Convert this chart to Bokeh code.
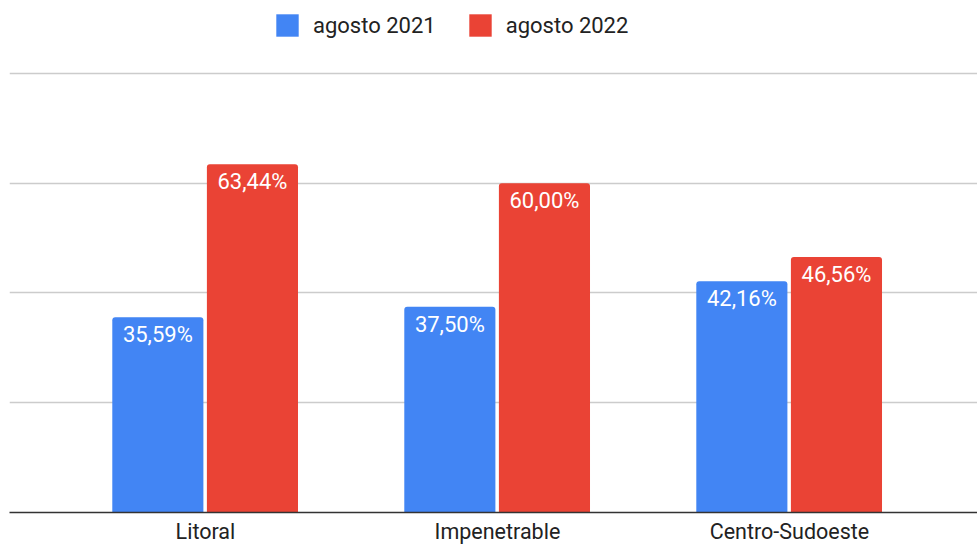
from bokeh.plotting import figure
from bokeh.models import ColumnDataSource, FixedTicker, Range1d, Legend, LegendItem
from bokeh.core.properties import value
from bokeh.embed import file_html
from bokeh.resources import INLINE

categories = ["Litoral", "Impenetrable", "Centro-Sudoeste"]
series_names = ["agosto 2021", "agosto 2022"]
values_2021 = [35.59, 37.50, 42.16]
values_2022 = [63.44, 60.00, 46.56]
colors = ["#4285F4", "#EA4335"]
grid_ticks = [0, 20, 40, 60, 80]

def fmt(v):
    return f"{v:.2f}".replace(".", ",") + "%"

p = figure(width=977, height=548, output_backend="svg", toolbar_location=None,
           x_range=Range1d(-0.671, 2.644), y_range=Range1d(0, 93.3),
           min_border_left=9, min_border_right=0, min_border_top=0, min_border_bottom=36)
p.outline_line_color = None
p.background_fill_color = "white"

xs = list(range(len(categories)))
offs = [-0.163, 0.161]
renderers = []
for vals, off, col in zip([values_2021, values_2022], offs, colors):
    src = ColumnDataSource(dict(x=[x + off for x in xs], top=vals, lab=[fmt(v) for v in vals]))
    r = p.vbar(x="x", top="top", bottom=0, width=0.312, source=src, fill_color=col,
               line_color=None, border_radius=(3, 3, 0, 0))
    renderers.append(r)
    p.text(x="x", y="top", text="lab", source=src, text_color="white",
           text_font=value("Roboto"), text_font_size="22px", text_align="center",
           text_baseline="top", y_offset=5)

p.yaxis.visible = False
p.ygrid.ticker = FixedTicker(ticks=grid_ticks)
p.ygrid.grid_line_color = "#cccccc"
p.ygrid.grid_line_width = 1.5
p.xgrid.grid_line_color = None

p.xaxis.ticker = FixedTicker(ticks=xs)
p.xaxis.major_label_overrides = {i: c for i, c in enumerate(categories)}
p.xaxis.major_tick_line_color = None
p.xaxis.minor_tick_line_color = None
p.xaxis.major_tick_out = 0
p.xaxis.axis_line_color = "#333333"
p.xaxis.axis_line_width = 1.5
p.xaxis.major_label_text_font = "Roboto"
p.xaxis.major_label_text_font_size = "21.5px"
p.xaxis.major_label_text_color = "#222222"
p.xaxis.major_label_standoff = 6

legend = Legend(items=[LegendItem(label=n, renderers=[r]) for n, r in zip(series_names, renderers)],
                orientation="horizontal", location=(264, 473), padding=0, margin=0,
                glyph_width=28, glyph_height=28, label_height=28, label_standoff=12, spacing=30,
                label_text_font="Roboto", label_text_font_size="22px", label_text_color="#222222",
                border_line_color=None, background_fill_alpha=0)
p.add_layout(legend, "center")

open("out.html", "w").write(file_html(p, INLINE))
